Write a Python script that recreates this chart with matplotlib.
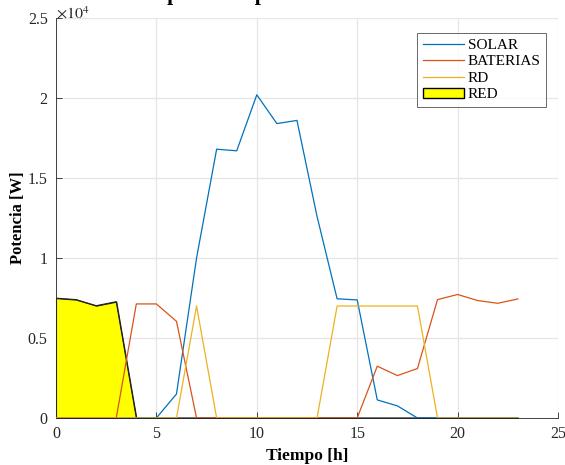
import numpy as np
import matplotlib
matplotlib.use('Agg')
import matplotlib.pyplot as plt
from matplotlib.patches import Patch
from matplotlib.lines import Line2D

plt.rcParams['font.family'] = ['Liberation Serif', 'DejaVu Serif']
plt.rcParams['mathtext.fontset'] = 'stix'

# datos por hora (0..23)
horas = np.arange(24)
solar = [0, 0, 0, 0, 0, 0, 1500, 10000, 16800, 16700, 20200, 18400,
         18600, 12600, 7450, 7380, 1130, 760, 0, 0, 0, 0, 0, 0]
baterias = [0, 0, 0, 0, 7130, 7130, 6040, 0, 0, 0, 0, 0,
            0, 0, 0, 0, 3240, 2650, 3090, 7400, 7720, 7340, 7170, 7440]
rd = [0, 0, 0, 0, 0, 0, 0, 7000, 0, 0, 0, 0,
      0, 0, 7000, 7000, 7000, 7000, 7000, 0, 0, 0, 0, 0]
red = [7490, 7400, 7020, 7270, 0, 0, 0, 0, 0, 0, 0, 0,
       0, 0, 0, 0, 0, 0, 0, 0, 0, 0, 0, 0]

xticks = [0, 5, 10, 15, 20, 25]
yticks = [0, 5000, 10000, 15000, 20000, 25000]
ylabels = ['0', '0.5', '1', '1.5', '2', '2.5']

c_solar = '#0072BD'
c_bat = '#D95319'
c_rd = '#EDB120'

fig = plt.figure(figsize=(5.65, 4.65), dpi=100)
ax = fig.add_axes([56/565, 1-418/465, 502/565, 400/465])

ax.fill_between(horas, red, 0, facecolor='yellow', edgecolor='#202020', linewidth=0.8, zorder=2)
ax.plot(horas, red, color='#202020', lw=0.8, zorder=2)
ax.plot(horas, solar, color=c_solar, lw=0.9, zorder=3)
ax.plot(horas, baterias, color=c_bat, lw=0.9, zorder=3)
ax.plot(horas, rd, color=c_rd, lw=0.9, zorder=3)

ax.set_xlim(0, 25)
ax.set_ylim(0, 25000)
ax.set_xticks(xticks)
ax.set_yticks(yticks)
ax.set_yticklabels(ylabels)
ax.tick_params(direction='in', length=4, width=0.6, colors='#262626', labelsize=11.5, pad=6)
ax.grid(True, color='#e6e6e6', lw=0.9)
ax.set_axisbelow(True)
for s in ['top', 'right']:
    ax.spines[s].set_visible(False)
for s in ['left', 'bottom']:
    ax.spines[s].set_color('#262626')
    ax.spines[s].set_linewidth(0.6)

ax.set_xlabel('Tiempo [h]', fontsize=12.5, fontweight='bold', labelpad=4)
ax.set_ylabel('Potencia [W]', fontsize=12, fontweight='bold', labelpad=1)
ax.text(0, 1 - 1/400, r'$\times10^{4}$', transform=ax.transAxes, fontsize=11.5, color='#262626',
        ha='left', va='baseline')

# titulo recortado en la parte superior
fig.text(134/565, 1.0, 'Despacho de potencia', fontsize=15.5, fontweight='bold',
         ha='left', va='baseline')

handles = [Line2D([], [], color=c_solar, lw=0.9),
           Line2D([], [], color=c_bat, lw=0.9),
           Line2D([], [], color=c_rd, lw=0.9),
           Patch(facecolor='yellow', edgecolor='black')]
leg = ax.legend(handles, ['SOLAR', 'BATERIAS', 'RD', 'RED'], loc='upper right',
                bbox_to_anchor=(1 - 12/502, 1 - 15/400), borderaxespad=0,
                fontsize=11, frameon=True, fancybox=False,
                handlelength=2.7, labelspacing=0.18, borderpad=0.35, handletextpad=0.25)
leg.get_frame().set_edgecolor('#262626')
leg.get_frame().set_linewidth(0.6)

fig.savefig('out.png', dpi=100)
